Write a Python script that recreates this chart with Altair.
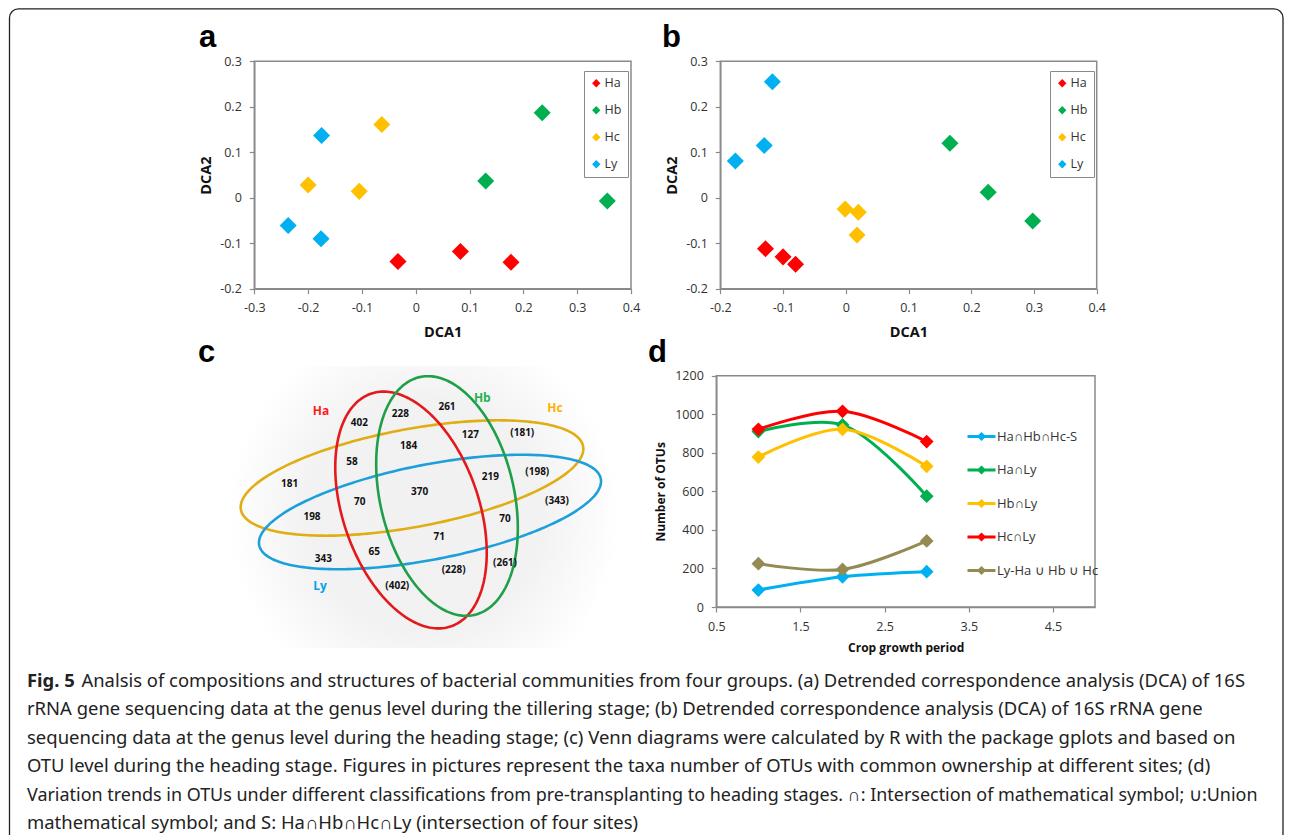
import altair as alt
import numpy as np
import pandas as pd

W, H = 1276, 827          # chart area = page minus the 8px margin
FONT = "Open Sans"
FRAME = "#8a8a8a"
TXT = "#333333"

# ---------------- data: panels a and b (DCA) ----------------
groups = ["Ha", "Hb", "Hc", "Ly"]
group_colors = ["#FF0000", "#00B050", "#FFC000", "#00B0F0"]
sample_group = ["Ha"] * 3 + ["Hb"] * 3 + ["Hc"] * 3 + ["Ly"] * 3

a_dca1 = [-0.033, 0.083, 0.177, 0.235, 0.130, 0.356, -0.063, -0.200, -0.105, -0.175, -0.237, -0.176]
a_dca2 = [-0.140, -0.118, -0.142, 0.187, 0.037, -0.007, 0.161, 0.028, 0.014, 0.137, -0.061, -0.090]

b_dca1 = [-0.128, -0.100, -0.080, 0.166, 0.227, 0.298, -0.001, 0.020, 0.018, -0.117, -0.130, -0.176]
b_dca2 = [-0.112, -0.130, -0.146, 0.120, 0.012, -0.051, -0.025, -0.032, -0.082, 0.255, 0.115, 0.081]

a_xticks = [-0.3, -0.2, -0.1, 0, 0.1, 0.2, 0.3, 0.4]
b_xticks = [-0.2, -0.1, 0, 0.1, 0.2, 0.3, 0.4]
dca_yticks = [-0.2, -0.1, 0, 0.1, 0.2, 0.3]

# ---------------- data: panel d (OTU trends) ----------------
d_series = ["Ha∩Hb∩Hc-S", "Ha∩Ly", "Hb∩Ly", "Hc∩Ly", "Ly-Ha ∪ Hb ∪ Hc"]
d_colors = ["#00B0F0", "#00B050", "#FFC000", "#FF0000", "#948A54"]
d_period = [1, 2, 3]
d_s_values = [88, 157, 183]
d_haly_values = [910, 945, 575]
d_hbly_values = [778, 922, 730]
d_hcly_values = [922, 1015, 858]
d_union_values = [225, 195, 343]
d_xticks = [0.5, 1.5, 2.5, 3.5, 4.5]
d_yticks = [0, 200, 400, 600, 800, 1000, 1200]

# ---------------- data: panel c (Venn counts) ----------------
venn_counts = ["402", "228", "261", "127", "(181)", "184", "58", "219", "(198)", "181", "370",
               "70", "(343)", "198", "70", "71", "65", "343", "(228)", "(261)", "(402)"]
venn_names = ["Ha", "Hb", "Hc", "Ly"]

# ---------------- caption text ----------------
caption_bold = "Fig. 5"
caption_lines = [
    "Analsis of compositions and structures of bacterial communities from four groups. (a) Detrended correspondence analysis (DCA) of 16S",
    "rRNA gene sequencing data at the genus level during the tillering stage; (b) Detrended correspondence analysis (DCA) of 16S rRNA gene",
    "sequencing data at the genus level during the heading stage; (c) Venn diagrams were calculated by R with the package gplots and based on",
    "OTU level during the heading stage. Figures in pictures represent the taxa number of OTUs with common ownership at different sites; (d)",
    "Variation trends in OTUs under different classifications from pre-transplanting to heading stages. ∩: Intersection of mathematical symbol; ∪:Union",
    "mathematical symbol; and S: Ha∩Hb∩Hc∩Ly (intersection of four sites)",
]

# ================= layout (pixels, chart coordinates) =================
A_XR, A_YR = [246.3, 623.0], [280.7, 53.3]
B_XR, B_YR = [712.3, 1088.7], [280.7, 53.3]
D_XR, D_YR = [708.3, 1087.0], [599.0, 367.7]

# Venn ellipses: centre, semi-axes, direction of first axis (deg, screen coords)
venn_geom = {
    "Ha": (403, 502, 123, 68, 71),
    "Hb": (439, 488, 122, 67, 77),
    "Hc": (404, 470, 174, 49, -10.5),
    "Ly": (422, 504, 174, 47.5, -11),
}
venn_line_colors = {"Ha": "#E3191C", "Hb": "#1E9F48", "Hc": "#E0AD12", "Ly": "#1DA0DA"}
venn_count_pos = [(351.3, 414.7), (392.3, 406.3), (439, 399), (462.3, 426.7), (514.3, 425),
                  (400.7, 438), (344, 453.7), (482.3, 469.3), (529.3, 464), (281.7, 476),
                  (411.7, 483.7), (351.7, 494.3), (549, 493.3), (304, 509), (497, 511.3),
                  (431.3, 529.3), (366.3, 544.3), (315.3, 551), (445.7, 562), (497, 555.3),
                  (389.3, 578)]
venn_name_pos = [(313, 402.7), (474.3, 389.7), (547, 399.7), (312, 578)]
venn_name_colors = ["#FF1A1A", "#22B14C", "#FFB000", "#00A2E8"]
letters = ["a", "b", "c", "d"]
letter_pos = [(191, 39), (654, 39), (190, 354), (640, 354)]
CAP_FONT = "Noto Sans"
CAP_SIZES = [18.4, 18.45, 18.5, 18.45, 17.95, 18.45]
CAP_X, CAP_X2, CAP_Y0, CAP_DY = 19, 73.5, 678.5, 28.5


def axis(orient, offset, values, title, tsize, tpad, lpad=8, lsize=12.5):
    return alt.Axis(
        orient=orient, offset=offset, values=values, title=title,
        grid=False, domain=True, domainColor=FRAME, domainWidth=1.5,
        ticks=True, tickColor=FRAME, tickWidth=1.2, tickSize=5,
        labelFont=FONT, labelFontSize=lsize, labelColor=TXT, labelPadding=lpad,
        labelExpr="replace(format(datum.value, '.1~f'), '\u2212', '-')",
        labelFlush=False, labelOverlap=False, labelBound=False,
        titleFont=FONT, titleFontSize=tsize, titleFontWeight="bold",
        titleColor="#111111", titlePadding=tpad,
    )


one = pd.DataFrame({"k": [0]})


def frame_rect(xs, ys, xdom, ydom):
    # no axis settings here: the axis comes from the data layer of the same panel
    return alt.Chart(one).mark_rect(fillOpacity=0, stroke=FRAME, strokeWidth=1.5).encode(
        x=alt.XDatum(xdom[0], type="quantitative", scale=xs),
        x2=alt.X2Datum(xdom[1]),
        y=alt.YDatum(ydom[0], type="quantitative", scale=ys),
        y2=alt.Y2Datum(ydom[1]),
    )


def dca_panel(x_vals, y_vals, xdom, xr, yr, xticks, legend_x):
    df = pd.DataFrame({"group": sample_group, "dca1": x_vals, "dca2": y_vals})
    xs = alt.Scale(domain=xdom, range=xr, nice=False, zero=False)
    ys = alt.Scale(domain=[-0.2, 0.3], range=yr, nice=False, zero=False)
    pts = alt.Chart(df).mark_point(shape="diamond", filled=True, size=290, opacity=1).encode(
        x=alt.X("dca1:Q", scale=xs,
                axis=axis("bottom", yr[0] - H, xticks, "DCA1", 14.5, 11)),
        y=alt.Y("dca2:Q", scale=ys,
                axis=axis("left", -xr[0], dca_yticks, "DCA2", 14.5, 6)),
        color=alt.Color("group:N", scale=alt.Scale(domain=groups, range=group_colors),
                        legend=alt.Legend(title=None, orient="none", legendX=legend_x, legendY=63,
                                          symbolType="diamond", symbolSize=70, symbolStrokeWidth=0,
                                          labelFont=FONT, labelFontSize=12.5, labelColor=TXT,
                                          labelOffset=2, padding=6, rowPadding=14,
                                          strokeColor=FRAME, fillColor="white")),
    )
    return alt.layer(pts, frame_rect(xs, ys, xdom, [-0.2, 0.3]))


pa = dca_panel(a_dca1, a_dca2, [-0.3, 0.4], A_XR, A_YR, a_xticks, 576)
pb = dca_panel(b_dca1, b_dca2, [-0.2, 0.4], B_XR, B_YR, b_xticks, 1042)

# ---------------- panel d ----------------
d_all = [d_s_values, d_haly_values, d_hbly_values, d_hcly_values, d_union_values]
d_df = pd.DataFrame([
    {"series": s, "period": p, "otus": v}
    for s, vals in zip(d_series, d_all) for p, v in zip(d_period, vals)
])
dxs = alt.Scale(domain=[0.5, 5.0], range=D_XR, nice=False, zero=False)
dys = alt.Scale(domain=[0, 1200], range=D_YR, nice=False, zero=False)
d_col_scale = alt.Scale(domain=d_series, range=d_colors)
d_lines = alt.Chart(d_df).mark_line(interpolate="catmull-rom", strokeWidth=3).encode(
    x=alt.X("period:Q", scale=dxs,
            axis=axis("bottom", D_YR[0] - H, d_xticks, "Crop growth period", 12, 10)),
    y=alt.Y("otus:Q", scale=dys,
            axis=axis("left", -D_XR[0], d_yticks, "Number of OTUs", 12, 7)),
    color=alt.Color("series:N", scale=d_col_scale, sort=d_series,
                    legend=alt.Legend(title=None, orient="none", legendX=953, legendY=422,
                                      symbolType="M-5.6,0L5.6,0M0,-1L1,0L0,1L-1,0Z",
                                      symbolSize=25, symbolStrokeWidth=3, symbolOffset=14,
                                      labelOffset=9, labelFont=FONT, labelFontSize=13,
                                      labelColor=TXT, padding=0, rowPadding=16.5, labelLimit=300)),
)
d_pts = alt.Chart(d_df).mark_point(shape="diamond", filled=True, size=190, opacity=1).encode(
    x=alt.X("period:Q", scale=dxs),
    y=alt.Y("otus:Q", scale=dys),
    color=alt.Color("series:N", scale=d_col_scale, legend=None),
)
pd_panel = alt.layer(d_lines, d_pts, frame_rect(dxs, dys, [0.5, 5.0], [0, 1200]))

# ---------------- overlay: border, Venn diagram, letters, caption ----------------
pxs = alt.Scale(domain=[0, W], range=[0, W], nice=False, zero=False)
pys = alt.Scale(domain=[0, H], range=[0, H], nice=False, zero=False)

border = alt.Chart(one).mark_rect(fillOpacity=0, stroke="#222222", strokeWidth=1.3,
                                  cornerRadius=9).encode(
    x=alt.XDatum(1.5, type="quantitative", scale=pxs, axis=None),
    x2=alt.X2Datum(W - 1.0),
    y=alt.YDatum(0.8, type="quantitative", scale=pys, axis=None),
    y2=alt.Y2Datum(H + 30),
)

# soft grey shading behind the Venn diagram, fading to white at its edges
shade = alt.Chart(one).mark_rect(
    fill=alt.RadialGradient(gradient="radial", x1=0.5, y1=0.52, x2=0.5, y2=0.52, r1=0, r2=0.48,
                            stops=[alt.GradientStop(color="#f1f1f1", offset=0),
                                   alt.GradientStop(color="#f2f2f2", offset=0.6),
                                   alt.GradientStop(color="#ffffff", offset=1)])
).encode(
    x=alt.XDatum(212, type="quantitative", scale=pxs, axis=None),
    x2=alt.X2Datum(620),
    y=alt.YDatum(358, type="quantitative", scale=pys, axis=None),
    y2=alt.Y2Datum(640),
)

rows = []
t = np.linspace(0, 2 * np.pi, 241)
for name in ["Hc", "Ly", "Ha", "Hb"]:
    cx, cy, ra, rb, ang = venn_geom[name]
    al = np.deg2rad(ang)
    xs_ = cx + ra * np.cos(t) * np.cos(al) - rb * np.sin(t) * np.sin(al)
    ys_ = cy + ra * np.cos(t) * np.sin(al) + rb * np.sin(t) * np.cos(al)
    for i, (xv, yv) in enumerate(zip(xs_, ys_)):
        rows.append({"set": name, "k": i, "px": xv, "py": yv, "col": venn_line_colors[name]})
ell_df = pd.DataFrame(rows)
ellipses = alt.Chart(ell_df).mark_line(strokeWidth=2.6).encode(
    x=alt.X("px:Q", scale=pxs, axis=None),
    y=alt.Y("py:Q", scale=pys, axis=None),
    detail="set:N",
    order="k:Q",
    color=alt.Color("col:N", scale=None),
)

cnt_df = pd.DataFrame({"txt": venn_counts,
                       "px": [p[0] for p in venn_count_pos],
                       "py": [p[1] for p in venn_count_pos]})
counts = alt.Chart(cnt_df).mark_text(font=FONT, fontSize=10, fontWeight="bold",
                                     color="#111111", baseline="middle").encode(
    x=alt.X("px:Q", scale=pxs, axis=None), y=alt.Y("py:Q", scale=pys, axis=None), text="txt:N")

nm_df = pd.DataFrame({"txt": venn_names, "col": venn_name_colors,
                      "px": [p[0] for p in venn_name_pos], "py": [p[1] for p in venn_name_pos]})
names = alt.Chart(nm_df).mark_text(font=FONT, fontSize=12, fontWeight="bold",
                                   baseline="middle").encode(
    x=alt.X("px:Q", scale=pxs, axis=None), y=alt.Y("py:Q", scale=pys, axis=None),
    text="txt:N", color=alt.Color("col:N", scale=None))

let_df = pd.DataFrame({"txt": letters, "px": [p[0] for p in letter_pos],
                       "py": [p[1] for p in letter_pos]})
letter_marks = alt.Chart(let_df).mark_text(font="Liberation Sans", fontSize=31, fontWeight="bold",
                                           align="left", baseline="alphabetic",
                                           color="#000000").encode(
    x=alt.X("px:Q", scale=pxs, axis=None), y=alt.Y("py:Q", scale=pys, axis=None), text="txt:N")

cap_df = pd.DataFrame({"txt": caption_lines,
                       "fs": CAP_SIZES,
                       "px": [CAP_X2] + [CAP_X] * (len(caption_lines) - 1),
                       "py": [CAP_Y0 + CAP_DY * i for i in range(len(caption_lines))]})
cap_reg = alt.Chart(cap_df).mark_text(font=CAP_FONT, align="left",
                                      baseline="alphabetic", color="#222222").encode(
    x=alt.X("px:Q", scale=pxs, axis=None), y=alt.Y("py:Q", scale=pys, axis=None),
    text="txt:N", size=alt.Size("fs:Q", scale=None, legend=None))
capb_df = pd.DataFrame({"txt": [caption_bold], "px": [CAP_X], "py": [CAP_Y0]})
cap_bold = alt.Chart(capb_df).mark_text(font=CAP_FONT, fontSize=CAP_SIZES[0], fontWeight="bold",
                                        align="left", baseline="alphabetic",
                                        color="#222222").encode(
    x=alt.X("px:Q", scale=pxs, axis=None), y=alt.Y("py:Q", scale=pys, axis=None), text="txt:N")

overlay = alt.layer(border, shade, ellipses, counts, names, letter_marks, cap_reg, cap_bold)

chart = (
    alt.layer(overlay, pa, pb, pd_panel)
    .resolve_scale(x="independent", y="independent", color="independent")
    .properties(width=W, height=H, padding=0, autosize=alt.AutoSizeParams(type="none"),
                background="white")
    .configure_view(stroke=None)
)

chart.save("out.html", embed_options={"renderer": "svg", "actions": False})
